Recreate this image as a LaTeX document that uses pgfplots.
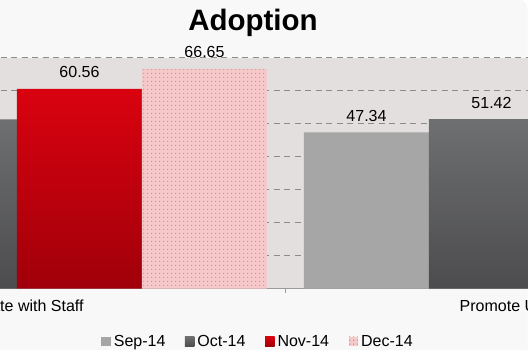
\documentclass[border=0pt]{standalone}
\usepackage{pgfplots}
\pgfplotsset{compat=1.18}
\usepackage{fontspec}
\setmainfont{Liberation Sans}
\usetikzlibrary{patterns}
\pgfdeclarepatternformonly{sparsedots}{\pgfqpoint{0pt}{0pt}}{\pgfqpoint{4.2pt}{4.2pt}}{\pgfqpoint{4.2pt}{4.2pt}}{%
  \pgfpathrectangle{\pgfqpoint{1.6pt}{1.6pt}}{\pgfqpoint{1pt}{1pt}}\pgfusepath{fill}}
\definecolor{chartbg}{HTML}{F8F8F8}
\definecolor{plotbg}{HTML}{E2DFDE}
\definecolor{gridc}{HTML}{8C8C8C}
\definecolor{axisc}{HTML}{9A9A9A}
\definecolor{sepc}{HTML}{A6A6A6}
\definecolor{octtop}{HTML}{6E6F71}
\definecolor{octbot}{HTML}{4C4C4E}
\definecolor{novtop}{HTML}{D9020F}
\definecolor{novbot}{HTML}{A0000A}
\definecolor{decfill}{HTML}{F5C9CA}
\definecolor{decdot}{HTML}{D04858}
\begin{document}
\begin{tikzpicture}
\useasboundingbox (0pt,0pt) rectangle (528pt,349pt);
\clip (0pt,0pt) rectangle (528pt,349pt);
\fill[white] (0pt,0pt) rectangle (528pt,349pt);
\fill[chartbg, rounded corners=10pt] (-40pt,-40pt) rectangle (527.5pt,350pt);
\node[anchor=base, font=\fontsize{29.5}{34}\selectfont\bfseries] at (253pt,318pt) {Adoption};
\begin{axis}[
  at={(-251.5pt,60.3pt)}, anchor=south west,
  scale only axis, width=1074pt, height=231pt,
  xmin=-0.5, xmax=1.5, ymin=0, ymax=70,
  ybar=0pt, bar width=125pt,
  every axis plot/.append style={legend image code/.code={\path[##1] (0pt,-4.75pt) rectangle (9.5pt,4.75pt);}},
  axis background/.style={fill=plotbg},
  axis x line*=bottom, axis y line*=left,
  x axis line style={-, draw=axisc, line width=1.4pt},
  y axis line style={draw=none},
  ymajorgrids, ytick={10,20,...,70}, yticklabels={},
  ytick style={draw=none},
  major grid style={dash pattern=on 6pt off 4.5pt, line width=1.3pt, color=gridc},
  xtick={-0.5,0.5,1.5}, xticklabels={},
  xtick style={draw=axisc, line width=1pt},
  major tick length=4pt, tick align=outside,
  extra x ticks={0,1},
  extra x tick labels={Integrate with Staff, Promote Use with Patients},
  extra x tick style={major tick length=0pt},
  xticklabel style={font=\fontsize{16}{19}\selectfont, text=black, yshift=-7.5pt},
  /pgf/number format/assume math mode=true,
  nodes near coords,
  nodes near coords style={font=\fontsize{16}{19}\selectfont, text=black, anchor=base, yshift=11pt,
    /pgf/number format/.cd, fixed, precision=2, zerofill},
  legend style={at={(0.4749,-0.2286)}, anchor=center, legend columns=4, draw=none, fill=none,
    font=\fontsize{16}{19}\selectfont, nodes={inner xsep=3pt, inner ysep=0pt},
    /tikz/every even column/.append style={column sep=16.5pt}},
]
\addplot[fill=sepc, draw=none] coordinates {(0,45.10) (1,47.34)};
\addplot[draw=none, top color=octtop, bottom color=octbot] coordinates {(0,51.33) (1,51.42)};
\addplot[draw=none, top color=novtop, bottom color=novbot] coordinates {(0,60.56) (1,55.20)};
\addplot[draw=none, fill=decfill, postaction={pattern=sparsedots, pattern color=decdot}] coordinates {(0,66.65) (1,58.90)};
\legend{Sep-14,Oct-14,Nov-14,Dec-14}
\end{axis}
\end{tikzpicture}
\end{document}
